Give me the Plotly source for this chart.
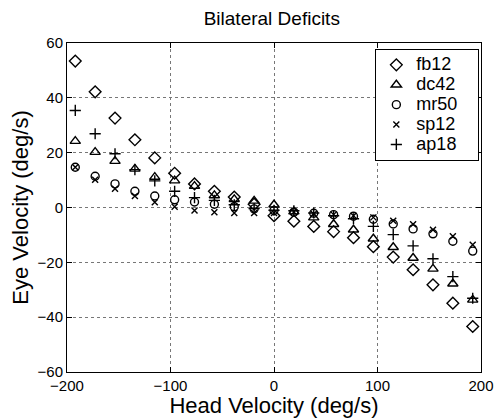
import plotly.graph_objects as go

# Head velocity bins (deg/s)
head_velocity = [-192, -172.8, -153.6, -134.4, -115.2, -96, -76.8, -57.6, -38.4, -19.2, 0,
                 19.2, 38.4, 57.6, 76.8, 96, 115.2, 134.4, 153.6, 172.8, 192]

# Mean eye velocity per subject (deg/s)
fb12 = [53.4, 42.2, 32.6, 24.7, 18.1, 12.5, 8.6, 5.9, 3.8, 1.2, -3.0,
        -5.0, -6.9, -8.8, -11.0, -14.3, -18.1, -22.7, -28.2, -34.9, -43.4]
dc42 = [24.2, 20.2, 16.9, 14.1, 11.1, 9.8, 7.8, 4.4, 3.0, 2.4, 1.0,
        -1.5, -3.7, -6.1, -8.1, -11.4, -14.5, -18.4, -22.4, -27.8, -33.7]
mr50 = [14.7, 11.4, 8.6, 5.9, 4.2, 2.8, 2.0, 1.2, 0.3, -0.5, -1.1,
        -1.7, -2.1, -2.6, -3.2, -4.3, -6.0, -7.8, -9.6, -12.3, -15.9]
sp12 = [14.7, 10.1, 6.8, 4.2, 1.9, 0.3, -1.1, -1.7, -2.0, -2.0, -2.0,
        -1.6, -2.4, -2.6, -3.0, -3.6, -4.8, -6.1, -8.1, -10.5, -13.6]
ap18 = [35.4, 26.9, 19.6, 13.8, 9.7, 5.9, 3.6, 2.6, 1.0, -0.4, -1.0,
        -1.2, -2.0, -3.0, -4.1, -6.9, -9.9, -14.0, -18.7, -25.2, -33.1]

series = [
    ("fb12", fb12, "diamond-open", 9),
    ("dc42", dc42, "triangle-up-open", 9),
    ("mr50", mr50, "circle-open", 8),
    ("sp12", sp12, "x-thin-open", 6),
    ("ap18", ap18, "cross-thin-open", 8),
]

fig = go.Figure()
for name, vals, sym, size in series:
    fig.add_trace(go.Scatter(
        x=head_velocity, y=vals, mode="markers",
        # larger label text on a compact legend row, padded on the right
        name=f'<span style="font-size:18px">{name}\u00a0\u00a0\u00a0</span>',
        marker=dict(symbol=sym, size=size, color="black",
                    line=dict(color="black", width=1.4)),
    ))

font_family = "Liberation Sans, Arial, Helvetica, sans-serif"
axis_common = dict(
    showline=True, linecolor="black", linewidth=1, mirror="allticks",
    ticks="inside", ticklen=5, tickcolor="black", automargin=False,
    showgrid=True, gridcolor="#777777", griddash="dot", gridwidth=1,
    zeroline=False, tickfont=dict(size=15, color="black"),
)

fig.update_layout(
    width=496, height=418,
    margin=dict(l=67, r=15, t=43, b=46),
    paper_bgcolor="white", plot_bgcolor="white",
    font=dict(family=font_family, color="black"),
    title=dict(text="Bilateral Deficits", x=0.548, xanchor="center",
               y=0.957, yanchor="middle", font=dict(size=19, color="black")),
    showlegend=True,
    legend=dict(x=0.996, y=0.982, xanchor="right", yanchor="top",
                bordercolor="black", borderwidth=1, bgcolor="white",
                font=dict(size=13, color="black"), tracegroupgap=0,
                itemwidth=30),
    xaxis=dict(range=[-200, 200], tickvals=[-200, -100, 0, 100, 200],
               title=dict(text="Head Velocity (deg/s)", font=dict(size=22), standoff=0),
               **axis_common),
    yaxis=dict(range=[-60, 60], tickvals=[-60, -40, -20, 0, 20, 40, 60],
               title=dict(text="Eye Velocity (deg/s)", font=dict(size=22), standoff=2),
               **axis_common),
)

fig.write_html("out.html")
